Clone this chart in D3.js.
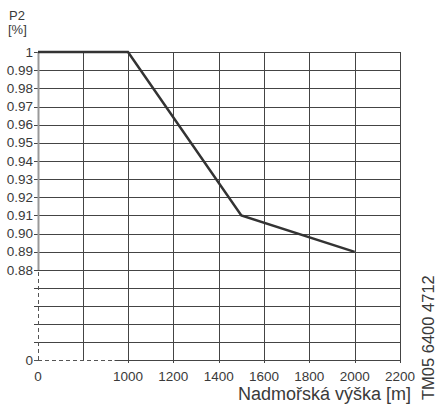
<!DOCTYPE html>
<html>
<head>
<meta charset="utf-8">
<script src="https://cdn.jsdelivr.net/npm/d3@7"></script>
<style>
  body { margin: 0; background: #fff; }
  text { font-family: "Liberation Sans", Arial, sans-serif; fill: #3a3a3a; }
</style>
</head>
<body>
<div id="chart"></div>
<script>
// data
var altitude = [0, 1000, 1500, 2000];
var power = [1, 1, 0.91, 0.89];

var xTicks = [0, 1000, 1200, 1400, 1600, 1800, 2000, 2200];
var xGridExtra = [500];
var yTicks = [1, 0.99, 0.98, 0.97, 0.96, 0.95, 0.94, 0.93, 0.92, 0.91, 0.90, 0.89, 0.88];
var yTickLabels = ["1", "0.99", "0.98", "0.97", "0.96", "0.95", "0.94", "0.93", "0.92", "0.91", "0.90", "0.89", "0.88"];
var yGridExtra = [0.176, 0.352, 0.528, 0.704];

var svg = d3.select('#chart')
            .append('svg')
                .attr('width', 439)
                .attr('height', 404);

// broken axes: 0..1000 and 0..0.88 are squeezed
var x = d3.scaleLinear().domain([0, 1000, 2200]).range([38, 128, 400]);
var y = d3.scaleLinear().domain([0, 0.88, 1]).range([360, 270, 52]);

var grid = svg.append("g").attr("stroke", "#444").attr("stroke-width", 1);

// horizontal grid
grid.selectAll("line.h")
    .data(yTicks.concat(yGridExtra))
    .enter().append("line")
    .attr("x1", x(0) - 4)
    .attr("x2", x(2200))
    .attr("y1", function(d) { return Math.round(y(d)) + 0.5; })
    .attr("y2", function(d) { return Math.round(y(d)) + 0.5; });

// vertical grid
grid.selectAll("line.v")
    .data(xTicks.slice(1).concat(xGridExtra))
    .enter().append("line")
    .attr("x1", function(d) { return Math.round(x(d)) + 0.5; })
    .attr("x2", function(d) { return Math.round(x(d)) + 0.5; })
    .attr("y1", y(1))
    .attr("y2", function(d) { return d == 500 ? y(0) : y(0) + 3; });

// bottom axis, solid part
grid.append("line")
    .attr("x1", x(850)).attr("x2", x(2200))
    .attr("y1", Math.round(y(0)) + 0.5).attr("y2", Math.round(y(0)) + 0.5);

// dashed broken parts
svg.append("line")
    .attr("x1", x(0)).attr("x2", x(850))
    .attr("y1", Math.round(y(0)) + 0.5).attr("y2", Math.round(y(0)) + 0.5)
    .attr("stroke", "#555").attr("stroke-dasharray", "4,3");
svg.append("line")
    .attr("x1", x(0) + 0.5).attr("x2", x(0) + 0.5)
    .attr("y1", y(0)).attr("y2", y(0.88))
    .attr("stroke", "#555").attr("stroke-dasharray", "4,3");
// tick for 0
svg.append("line")
    .attr("x1", x(0) - 4).attr("x2", x(0))
    .attr("y1", Math.round(y(0)) + 0.5).attr("y2", Math.round(y(0)) + 0.5)
    .attr("stroke", "#555");

// solid left axis part
svg.append("line")
    .attr("x1", x(0) + 0.5).attr("x2", x(0) + 0.5)
    .attr("y1", y(0.88)).attr("y2", y(1))
    .attr("stroke", "#999").attr("stroke-width", 2);

// curve
var line = d3.line()
    .x(function(d, i) { return x(altitude[i]); })
    .y(function(d, i) { return y(power[i]); });

svg.append("path")
    .datum(power)
    .attr("d", line)
    .attr("fill", "none")
    .attr("stroke", "#333")
    .attr("stroke-width", 2.5);

// y labels
svg.append("g").selectAll("text")
    .data(yTicks.concat([0]))
    .enter().append("text")
    .attr("x", x(0) - 5)
    .attr("y", function(d) { return y(d) + 4.5; })
    .attr("text-anchor", "end")
    .style("font-size", "13.5px")
    .text(function(d, i) { return i < yTickLabels.length ? yTickLabels[i] : "0"; });

// x labels
svg.append("g").selectAll("text")
    .data(xTicks)
    .enter().append("text")
    .attr("x", function(d) { return x(d); })
    .attr("y", 381)
    .attr("text-anchor", "middle")
    .style("font-size", "13.5px")
    .text(function(d) { return d; });

svg.append("text").attr("x", 9).attr("y", 20).style("font-size", "13px").text("P2");
svg.append("text").attr("x", 8).attr("y", 34).style("font-size", "13px").text("[%]");

svg.append("text")
    .attr("x", 411).attr("y", 399.5)
    .attr("text-anchor", "end")
    .style("font-size", "18px")
    .text("Nadmořská výška [m]");

svg.append("text")
    .attr("transform", "translate(433.5,400) rotate(-90)")
    .style("font-size", "16.5px")
    .text("TM05 6400 4712");
</script>
</body>
</html>
